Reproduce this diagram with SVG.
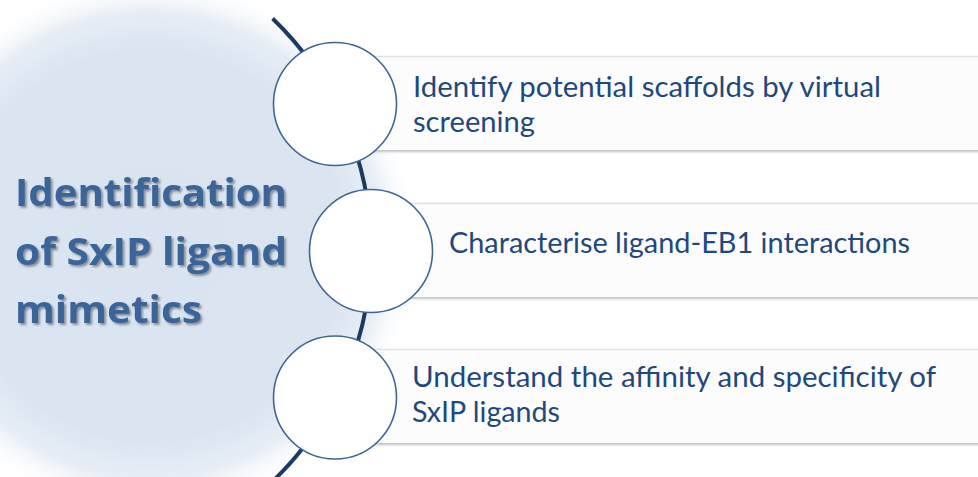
<svg xmlns="http://www.w3.org/2000/svg" width="978" height="477" viewBox="0 0 978 477">
  <defs>
    <radialGradient id="glow" cx="150" cy="245" r="270" gradientUnits="userSpaceOnUse">
      <stop offset="0" stop-color="#dae4f0"/>
      <stop offset="0.72" stop-color="#dbe5f0"/>
      <stop offset="0.86" stop-color="#e6edf5"/>
      <stop offset="1" stop-color="#ffffff" stop-opacity="0"/>
    </radialGradient>
    <filter id="barShadow" x="-5%" y="-20%" width="110%" height="140%">
      <feDropShadow dx="0" dy="2" stdDeviation="1.2" flood-color="#8f929b" flood-opacity="0.55"/>
    </filter>
    <filter id="titleShadow" x="-5%" y="-20%" width="115%" height="150%">
      <feDropShadow dx="2" dy="2" stdDeviation="1.2" flood-color="#50555e" flood-opacity="0.6"/>
    </filter>
    <style>
      .bar { fill: #fcfcfd; filter: url(#barShadow); }
      .barEdge { stroke: #e0e1e5; stroke-width: 1.5; }
      .step { fill: #ffffff; stroke: #3f6597; stroke-width: 1.6; }
      .spine { fill: none; stroke: #1c3a63; stroke-width: 4; }
      .label { font-family: Lato, "Liberation Sans", sans-serif; font-size: 29px; fill: #1f497d; }
      .title { font-family: "Open Sans", "Liberation Sans", sans-serif; font-weight: 700; font-size: 37px; fill: #3b6598; filter: url(#titleShadow); }
    </style>
  </defs>

  <rect width="978" height="477" fill="#ffffff"/>
  <!-- soft blue backdrop behind the title -->
  <circle cx="150" cy="245" r="270" fill="url(#glow)"/>

  <!-- title -->
  <g id="title">
    <text class="title" x="15" y="206" textLength="272" lengthAdjust="spacingAndGlyphs">Identification</text>
    <text class="title" x="15" y="265" textLength="272" lengthAdjust="spacingAndGlyphs">of SxIP ligand</text>
    <text class="title" x="15" y="323" textLength="187" lengthAdjust="spacingAndGlyphs">mimetics</text>
  </g>

  <!-- banners behind each step -->
  <g id="bars">
    <rect class="bar" x="335" y="56" width="650" height="94"/>
    <line class="barEdge" x1="335" y1="56.5" x2="978" y2="56.5"/>
    <rect class="bar" x="371" y="203" width="614" height="94"/>
    <line class="barEdge" x1="371" y1="203.5" x2="978" y2="203.5"/>
    <rect class="bar" x="335" y="349" width="650" height="94"/>
    <line class="barEdge" x1="335" y1="349.5" x2="978" y2="349.5"/>
  </g>

  <!-- curved spine linking the steps -->
  <g id="connectors">
    <path class="spine" d="M 272.6 18.5 A 321 321 0 0 1 263.2 490"/>
  </g>

  <g id="step1">
    <circle class="step" cx="335" cy="104" r="61.5"/>
    <text class="label" x="413" y="96.5" textLength="468" lengthAdjust="spacingAndGlyphs">Identify potential scaffolds by virtual</text>
    <text class="label" x="413" y="131.5" textLength="122" lengthAdjust="spacingAndGlyphs">screening</text>
  </g>

  <g id="step2">
    <circle class="step" cx="371" cy="251" r="61.5"/>
    <text class="label" x="449" y="253.3" textLength="461" lengthAdjust="spacingAndGlyphs">Characterise ligand-EB1 interactions</text>
  </g>

  <g id="step3">
    <circle class="step" cx="335" cy="397.5" r="61.5"/>
    <text class="label" x="412" y="386.7" textLength="524" lengthAdjust="spacingAndGlyphs">Understand the affinity and specificity of</text>
    <text class="label" x="412" y="421.7" textLength="148" lengthAdjust="spacingAndGlyphs">SxIP ligands</text>
  </g>
</svg>
